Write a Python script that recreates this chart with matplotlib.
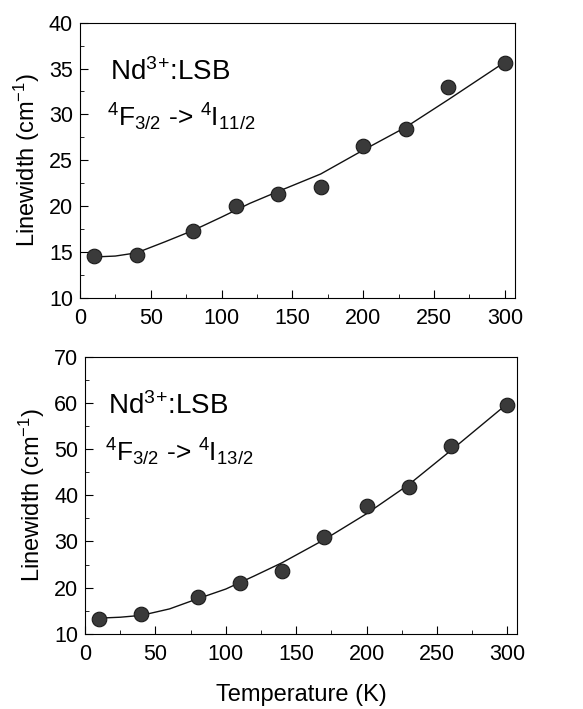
import matplotlib.pyplot as plt
from matplotlib.ticker import MultipleLocator

plt.rcParams["font.family"] = ["Liberation Sans", "DejaVu Sans"]
plt.rcParams["mathtext.fontset"] = "custom"
plt.rcParams["mathtext.rm"] = "Liberation Sans"
plt.rcParams["mathtext.it"] = "Liberation Sans"

# measured linewidths
temps = [10, 40, 80, 110, 140, 170, 200, 230, 260, 300]
width_1100 = [14.6, 14.7, 17.3, 20.0, 21.3, 22.1, 26.5, 28.4, 33.0, 35.6]
width_1300 = [13.2, 14.3, 17.9, 21.0, 23.6, 30.9, 37.6, 41.8, 50.6, 59.6]

# fitted curves
fit_t = [10, 25, 40, 60, 80, 100, 120, 140, 170, 200, 230, 260, 300]
fit_1100 = [14.45, 14.55, 14.9, 16.1, 17.35, 18.8, 20.3, 21.6, 23.5, 26.1, 28.6, 31.6, 35.7]
fit_1300 = [13.4, 13.6, 14.0, 15.4, 17.6, 19.7, 22.5, 25.4, 30.4, 36.0, 42.3, 49.7, 59.8]

panels = [
    ([0.137, 0.580, 0.746, 0.388], width_1100, fit_1100, (10, 40), 5, r"$^4$F$_{3/2}$ -> $^4$I$_{11/2}$", 0.062),
    ([0.146, 0.106, 0.741, 0.391], width_1300, fit_1300, (10, 70), 10, r"$^4$F$_{3/2}$ -> $^4$I$_{13/2}$", 0.045),
]

fig = plt.figure(figsize=(5.83, 7.09), dpi=100)

for rect, pts, fit, ylim, ystep, trans, tx in panels:
    ax = fig.add_axes(rect)
    ax.plot(fit_t, fit, "-", color="#111111", lw=1.0)
    ax.plot(temps, pts, "o", color="#3a3a3a", mec="#1a1a1a", mew=0.8, ms=10.5)
    ax.set_xlim(0, 307)
    ax.set_ylim(*ylim)
    ax.xaxis.set_major_locator(MultipleLocator(50))
    ax.xaxis.set_minor_locator(MultipleLocator(25))
    ax.yaxis.set_major_locator(MultipleLocator(ystep))
    ax.yaxis.set_minor_locator(MultipleLocator(ystep / 2))
    ax.tick_params(which="both", direction="in", labelsize=15.5)
    ax.tick_params(which="major", length=6)
    ax.tick_params(which="minor", length=3)
    ax.tick_params(axis="x", pad=7)
    ax.tick_params(axis="y", pad=5)
    ax.set_ylabel(r"Linewidth (cm$^{-1}$)", fontsize=17, labelpad=5)
    ax.text(tx + 0.008, 0.82, r"Nd$^{3}$$^{+}$:LSB", transform=ax.transAxes,
            fontsize=20, va="center")
    ax.text(tx, 0.655, trans, transform=ax.transAxes,
            fontsize=19, va="center")

ax.set_xlabel("Temperature (K)", fontsize=17, labelpad=14)

fig.savefig("out.png", dpi=100)
